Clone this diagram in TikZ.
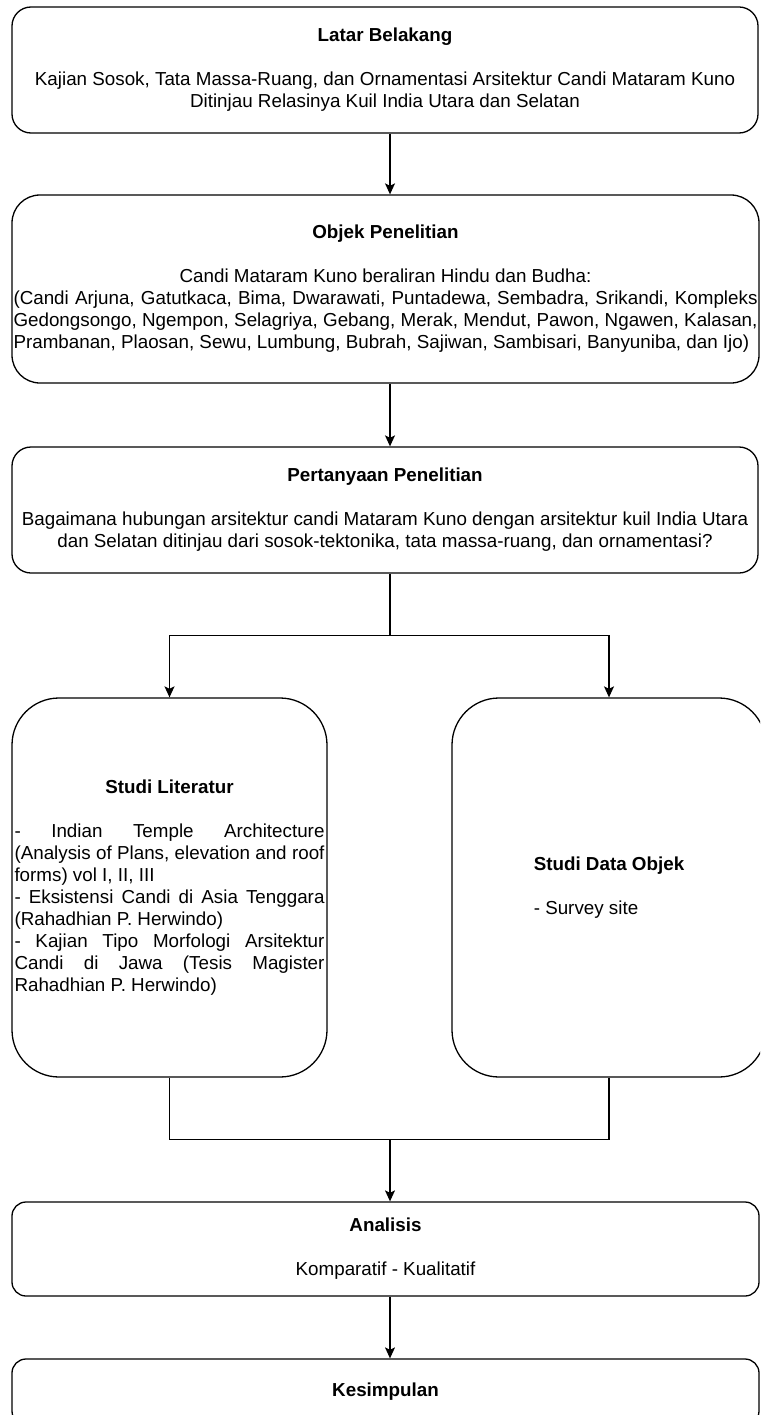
\documentclass[tikz,border=0pt]{standalone}
\usepackage{fontspec}
\setmainfont{Liberation Sans}
\usetikzlibrary{arrows.meta}
\frenchspacing
\begin{document}
\begin{tikzpicture}[x=1pt,y=-1pt,
  box/.style={draw=black, line width=1.3pt, fill=white, inner sep=0pt, align=center,
    font=\fontsize{18.8}{22}\selectfont},
  arr/.style={draw=black, line width=1.3pt, -{Stealth[length=11pt,width=10pt,inset=2.5pt]}},
  conn/.style={draw=black, line width=1.3pt}]
\useasboundingbox (0,0) rectangle (760,1415);
\clip (0,0) rectangle (760,1415);
\fill[white] (0,0) rectangle (760,1415);

\node[box, rounded corners=19pt, minimum width=746pt, minimum height=126pt] (lb) at (385,70)
  {\textbf{Latar Belakang}\\[22pt]
   Kajian Sosok, Tata Massa-Ruang, dan Ornamentasi Arsitektur Candi Mataram Kuno\\
   Ditinjau Relasinya Kuil India Utara dan Selatan};

\node[box, rounded corners=28pt, minimum width=747pt, minimum height=188pt] (op) at (385.5,289)
  {\textbf{Objek Penelitian}\\[22pt]
   Candi Mataram Kuno beraliran Hindu dan Budha:\\
   \makebox[744pt][s]{(Candi Arjuna, Gatutkaca, Bima, Dwarawati, Puntadewa, Sembadra, Srikandi, Kompleks}\\
   \makebox[744pt][s]{Gedongsongo, Ngempon, Selagriya, Gebang, Merak, Mendut, Pawon, Ngawen, Kalasan,}\\
   \makebox[744pt][l]{Prambanan, Plaosan, Sewu, Lumbung, Bubrah, Sajiwan, Sambisari, Banyuniba, dan Ijo)}};

\node[box, rounded corners=19pt, minimum width=746pt, minimum height=126pt] (pp) at (385,510)
  {\textbf{Pertanyaan Penelitian}\\[22pt]
   Bagaimana hubungan arsitektur candi Mataram Kuno dengan arsitektur kuil India Utara\\
   dan Selatan ditinjau dari sosok-tektonika, tata massa-ruang, dan ornamentasi?};

\node[box, rounded corners=47pt, minimum width=315pt, minimum height=379pt] (sl) at (169.5,887.5)
  {\textbf{Studi Literatur}\\[22pt]
   \makebox[310pt][s]{- Indian Temple Architecture}\\
   \makebox[310pt][s]{(Analysis of Plans, elevation and roof}\\
   \makebox[310pt][l]{forms) vol I, II, III}\\
   \makebox[310pt][s]{- Eksistensi Candi di Asia Tenggara}\\
   \makebox[310pt][l]{(Rahadhian P. Herwindo)}\\
   \makebox[310pt][s]{- Kajian Tipo Morfologi Arsitektur}\\
   \makebox[310pt][s]{Candi di Jawa (Tesis Magister}\\
   \makebox[310pt][l]{Rahadhian P. Herwindo)}};

\node[box, align=left, rounded corners=47pt, minimum width=314pt, minimum height=379pt] (sdo) at (609,887.5)
  {\textbf{Studi Data Objek}\\[22pt]
   - Survey site};

\node[box, rounded corners=14pt, minimum width=747pt, minimum height=94pt] (an) at (385.5,1249)
  {\textbf{Analisis}\\[22pt]
   Komparatif - Kualitatif};

\node[box, rounded corners=14pt, minimum width=747pt, minimum height=66pt] (ks) at (385.5,1392)
  {\textbf{Kesimpulan}};

% connectors
\draw[arr] ([xshift=5pt]lb.south) -- ([xshift=4.5pt]op.north);
\draw[arr] ([xshift=4.5pt]op.south) -- ([xshift=5pt]pp.north);
\coordinate (br) at ([xshift=5pt, yshift=-62pt]pp.south);
\draw[conn] ([xshift=5pt]pp.south) -- (br);
\draw[arr] (br) -| (sl.north);
\draw[arr] (br) -| (sdo.north);
\coordinate (mg) at ([yshift=-62pt]sl.south -| br);
\draw[conn] (sl.south) |- (mg);
\draw[conn] (sdo.south) |- (mg);
\draw[arr] (mg) -- (mg |- an.north);
\draw[arr] ([xshift=4.5pt]an.south) -- ([xshift=4.5pt]ks.north);
\end{tikzpicture}
\end{document}
